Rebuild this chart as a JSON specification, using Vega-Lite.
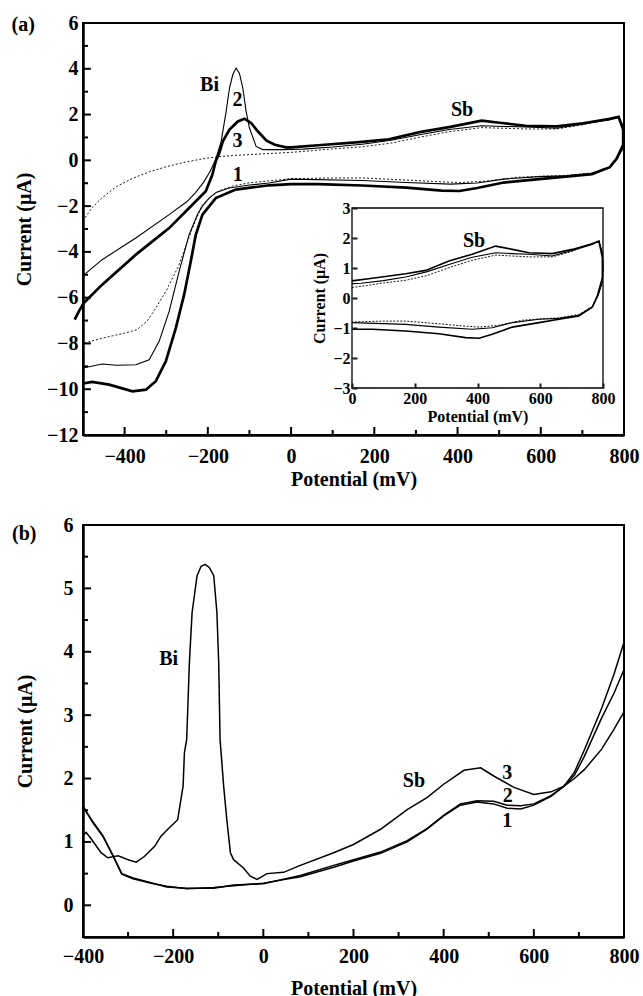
{
 "$schema": "https://vega.github.io/schema/vega-lite/v6.json",
 "padding": {"left": 10, "top": 12, "right": 5, "bottom": 0},
 "spacing": 24,
 "datasets": {
  "cv": [
   {"c":1,"E":-500,"I":-2.65},{"c":1,"E":-480,"I":-2.1},{"c":1,"E":-455,"I":-1.65},{"c":1,"E":-420,"I":-1.15},{"c":1,"E":-380,"I":-0.78},{"c":1,"E":-340,"I":-0.5},{"c":1,"E":-300,"I":-0.28},{"c":1,"E":-260,"I":-0.1},{"c":1,"E":-220,"I":0.04},{"c":1,"E":-180,"I":0.15},{"c":1,"E":-140,"I":0.21},{"c":1,"E":-100,"I":0.25},{"c":1,"E":-50,"I":0.3},{"c":1,"E":0,"I":0.35},{"c":1,"E":50,"I":0.42},{"c":1,"E":100,"I":0.5},{"c":1,"E":171,"I":0.59},{"c":1,"E":240,"I":0.75},{"c":1,"E":309,"I":1.01},{"c":1,"E":380,"I":1.25},{"c":1,"E":458,"I":1.43},{"c":1,"E":510,"I":1.4},{"c":1,"E":564,"I":1.37},{"c":1,"E":638,"I":1.37},{"c":1,"E":700,"I":1.55},{"c":1,"E":766,"I":1.83},{"c":1,"E":787,"I":1.88},{"c":1,"E":798,"I":1.5},{"c":1,"E":800,"I":1.0},{"c":1,"E":797,"I":0.5},{"c":1,"E":785,"I":0.1},{"c":1,"E":766,"I":-0.28},{"c":1,"E":723,"I":-0.55},{"c":1,"E":660,"I":-0.66},{"c":1,"E":596,"I":-0.7},{"c":1,"E":543,"I":-0.74},{"c":1,"E":468,"I":-0.91},{"c":1,"E":405,"I":-0.97},{"c":1,"E":340,"I":-0.92},{"c":1,"E":277,"I":-0.86},{"c":1,"E":171,"I":-0.77},{"c":1,"E":100,"I":-0.77},{"c":1,"E":0,"I":-0.8},{"c":1,"E":-53,"I":-0.9},{"c":1,"E":-100,"I":-0.98},{"c":1,"E":-140,"I":-1.12},{"c":1,"E":-175,"I":-1.35},{"c":1,"E":-200,"I":-1.7},{"c":1,"E":-215,"I":-2.0},{"c":1,"E":-240,"I":-3.1},{"c":1,"E":-270,"I":-4.6},{"c":1,"E":-300,"I":-5.7},{"c":1,"E":-325,"I":-6.45},{"c":1,"E":-345,"I":-7.0},{"c":1,"E":-370,"I":-7.4},{"c":1,"E":-400,"I":-7.55},{"c":1,"E":-450,"I":-7.75},{"c":1,"E":-500,"I":-8.0},
   {"c":2,"E":-502,"I":-5.07},{"c":2,"E":-454,"I":-4.34},{"c":2,"E":-373,"I":-3.39},{"c":2,"E":-293,"I":-2.37},{"c":2,"E":-250,"I":-1.8},{"c":2,"E":-229,"I":-1.4},{"c":2,"E":-210,"I":-0.95},{"c":2,"E":-195,"I":-0.5},{"c":2,"E":-182,"I":0.0},{"c":2,"E":-168,"I":0.83},{"c":2,"E":-156,"I":2.14},{"c":2,"E":-148,"I":3.16},{"c":2,"E":-140,"I":3.75},{"c":2,"E":-132,"I":4.03},{"c":2,"E":-124,"I":3.8},{"c":2,"E":-116,"I":3.16},{"c":2,"E":-108,"I":2.14},{"c":2,"E":-100,"I":1.41},{"c":2,"E":-84,"I":0.61},{"c":2,"E":-68,"I":0.47},{"c":2,"E":-20,"I":0.47},{"c":2,"E":0,"I":0.48},{"c":2,"E":29,"I":0.49},{"c":2,"E":100,"I":0.58},{"c":2,"E":171,"I":0.7},{"c":2,"E":240,"I":0.88},{"c":2,"E":309,"I":1.12},{"c":2,"E":380,"I":1.35},{"c":2,"E":458,"I":1.51},{"c":2,"E":510,"I":1.48},{"c":2,"E":564,"I":1.46},{"c":2,"E":638,"I":1.4},{"c":2,"E":700,"I":1.58},{"c":2,"E":766,"I":1.78},{"c":2,"E":787,"I":1.9},{"c":2,"E":798,"I":1.5},{"c":2,"E":800,"I":1.0},{"c":2,"E":797,"I":0.5},{"c":2,"E":784,"I":0.08},{"c":2,"E":766,"I":-0.3},{"c":2,"E":723,"I":-0.58},{"c":2,"E":660,"I":-0.68},{"c":2,"E":596,"I":-0.71},{"c":2,"E":511,"I":-0.82},{"c":2,"E":447,"I":-0.99},{"c":2,"E":383,"I":-1.04},{"c":2,"E":277,"I":-0.97},{"c":2,"E":171,"I":-0.88},{"c":2,"E":0,"I":-0.82},{"c":2,"E":-53,"I":-0.99},{"c":2,"E":-100,"I":-1.08},{"c":2,"E":-149,"I":-1.21},{"c":2,"E":-180,"I":-1.4},{"c":2,"E":-197,"I":-1.65},{"c":2,"E":-213,"I":-2.0},{"c":2,"E":-225,"I":-2.37},{"c":2,"E":-245,"I":-3.25},{"c":2,"E":-269,"I":-4.85},{"c":2,"E":-293,"I":-6.6},{"c":2,"E":-317,"I":-7.91},{"c":2,"E":-341,"I":-8.71},{"c":2,"E":-373,"I":-8.93},{"c":2,"E":-420,"I":-8.95},{"c":2,"E":-454,"I":-8.9},{"c":2,"E":-500,"I":-9.07},
   {"c":3,"E":-520,"I":-6.96},{"c":3,"E":-510,"I":-6.6},{"c":3,"E":-498,"I":-6.23},{"c":3,"E":-454,"I":-5.43},{"c":3,"E":-373,"I":-4.12},{"c":3,"E":-293,"I":-2.96},{"c":3,"E":-245,"I":-2.08},{"c":3,"E":-205,"I":-1.35},{"c":3,"E":-189,"I":-0.62},{"c":3,"E":-181,"I":-0.04},{"c":3,"E":-172,"I":0.35},{"c":3,"E":-164,"I":0.83},{"c":3,"E":-148,"I":1.34},{"c":3,"E":-128,"I":1.7},{"c":3,"E":-112,"I":1.82},{"c":3,"E":-96,"I":1.63},{"c":3,"E":-80,"I":1.27},{"c":3,"E":-59,"I":0.86},{"c":3,"E":-39,"I":0.68},{"c":3,"E":-12,"I":0.57},{"c":3,"E":0,"I":0.57},{"c":3,"E":65,"I":0.66},{"c":3,"E":171,"I":0.81},{"c":3,"E":235,"I":0.92},{"c":3,"E":309,"I":1.23},{"c":3,"E":383,"I":1.46},{"c":3,"E":458,"I":1.73},{"c":3,"E":511,"I":1.62},{"c":3,"E":564,"I":1.51},{"c":3,"E":638,"I":1.48},{"c":3,"E":702,"I":1.62},{"c":3,"E":766,"I":1.81},{"c":3,"E":787,"I":1.9},{"c":3,"E":798,"I":1.34},{"c":3,"E":798,"I":0.68},{"c":3,"E":782,"I":0.07},{"c":3,"E":766,"I":-0.3},{"c":3,"E":723,"I":-0.6},{"c":3,"E":660,"I":-0.71},{"c":3,"E":596,"I":-0.82},{"c":3,"E":511,"I":-0.97},{"c":3,"E":447,"I":-1.21},{"c":3,"E":405,"I":-1.34},{"c":3,"E":362,"I":-1.32},{"c":3,"E":277,"I":-1.19},{"c":3,"E":171,"I":-1.1},{"c":3,"E":65,"I":-1.04},{"c":3,"E":0,"I":-1.04},{"c":3,"E":-53,"I":-1.09},{"c":3,"E":-133,"I":-1.28},{"c":3,"E":-181,"I":-1.65},{"c":3,"E":-213,"I":-2.37},{"c":3,"E":-229,"I":-3.25},{"c":3,"E":-241,"I":-4.41},{"c":3,"E":-257,"I":-5.87},{"c":3,"E":-277,"I":-7.33},{"c":3,"E":-301,"I":-8.78},{"c":3,"E":-325,"I":-9.65},{"c":3,"E":-349,"I":-10.02},{"c":3,"E":-381,"I":-10.09},{"c":3,"E":-437,"I":-9.8},{"c":3,"E":-478,"I":-9.68},{"c":3,"E":-500,"I":-9.75}
  ],
  "sw": [
   {"c":1,"E":-400,"I":1.57},{"c":1,"E":-378,"I":1.3},{"c":1,"E":-356,"I":1.09},{"c":1,"E":-333,"I":0.77},{"c":1,"E":-314,"I":0.49},{"c":1,"E":-289,"I":0.42},{"c":1,"E":-251,"I":0.35},{"c":1,"E":-214,"I":0.3},{"c":1,"E":-170,"I":0.26},{"c":1,"E":-110,"I":0.28},{"c":1,"E":-66,"I":0.31},{"c":1,"E":0,"I":0.35},{"c":1,"E":82,"I":0.45},{"c":1,"E":156,"I":0.6},{"c":1,"E":200,"I":0.7},{"c":1,"E":260,"I":0.82},{"c":1,"E":319,"I":1.0},{"c":1,"E":363,"I":1.2},{"c":1,"E":400,"I":1.41},{"c":1,"E":437,"I":1.58},{"c":1,"E":474,"I":1.63},{"c":1,"E":511,"I":1.6},{"c":1,"E":541,"I":1.53},{"c":1,"E":571,"I":1.52},{"c":1,"E":600,"I":1.58},{"c":1,"E":638,"I":1.72},{"c":1,"E":667,"I":1.88},{"c":1,"E":690,"I":2.1},{"c":1,"E":712,"I":2.45},{"c":1,"E":750,"I":3.1},{"c":1,"E":778,"I":3.65},{"c":1,"E":800,"I":4.15},
   {"c":2,"E":-400,"I":1.55},{"c":2,"E":-378,"I":1.32},{"c":2,"E":-356,"I":1.1},{"c":2,"E":-333,"I":0.78},{"c":2,"E":-314,"I":0.5},{"c":2,"E":-289,"I":0.43},{"c":2,"E":-251,"I":0.36},{"c":2,"E":-214,"I":0.29},{"c":2,"E":-170,"I":0.27},{"c":2,"E":-110,"I":0.27},{"c":2,"E":-66,"I":0.32},{"c":2,"E":0,"I":0.34},{"c":2,"E":82,"I":0.47},{"c":2,"E":156,"I":0.63},{"c":2,"E":200,"I":0.72},{"c":2,"E":260,"I":0.84},{"c":2,"E":319,"I":1.02},{"c":2,"E":363,"I":1.21},{"c":2,"E":400,"I":1.42},{"c":2,"E":437,"I":1.6},{"c":2,"E":474,"I":1.65},{"c":2,"E":511,"I":1.64},{"c":2,"E":541,"I":1.58},{"c":2,"E":571,"I":1.57},{"c":2,"E":600,"I":1.6},{"c":2,"E":638,"I":1.73},{"c":2,"E":667,"I":1.88},{"c":2,"E":690,"I":2.05},{"c":2,"E":712,"I":2.35},{"c":2,"E":750,"I":2.95},{"c":2,"E":778,"I":3.35},{"c":2,"E":800,"I":3.72},
   {"c":3,"E":-400,"I":1.1},{"c":3,"E":-393,"I":1.15},{"c":3,"E":-382,"I":1.05},{"c":3,"E":-360,"I":0.83},{"c":3,"E":-345,"I":0.75},{"c":3,"E":-322,"I":0.78},{"c":3,"E":-300,"I":0.72},{"c":3,"E":-282,"I":0.68},{"c":3,"E":-264,"I":0.77},{"c":3,"E":-241,"I":0.93},{"c":3,"E":-227,"I":1.09},{"c":3,"E":-212,"I":1.2},{"c":3,"E":-190,"I":1.35},{"c":3,"E":-178,"I":1.88},{"c":3,"E":-175,"I":2.41},{"c":3,"E":-170,"I":2.62},{"c":3,"E":-164,"I":3.83},{"c":3,"E":-158,"I":4.62},{"c":3,"E":-147,"I":5.2},{"c":3,"E":-138,"I":5.35},{"c":3,"E":-129,"I":5.38},{"c":3,"E":-120,"I":5.33},{"c":3,"E":-110,"I":5.2},{"c":3,"E":-103,"I":4.62},{"c":3,"E":-99,"I":3.83},{"c":3,"E":-96,"I":2.62},{"c":3,"E":-88,"I":1.88},{"c":3,"E":-81,"I":1.35},{"c":3,"E":-73,"I":0.83},{"c":3,"E":-66,"I":0.72},{"c":3,"E":-44,"I":0.59},{"c":3,"E":-29,"I":0.46},{"c":3,"E":-14,"I":0.41},{"c":3,"E":8,"I":0.5},{"c":3,"E":45,"I":0.52},{"c":3,"E":82,"I":0.63},{"c":3,"E":156,"I":0.83},{"c":3,"E":200,"I":0.96},{"c":3,"E":260,"I":1.2},{"c":3,"E":319,"I":1.51},{"c":3,"E":363,"I":1.7},{"c":3,"E":400,"I":1.91},{"c":3,"E":445,"I":2.13},{"c":3,"E":482,"I":2.17},{"c":3,"E":511,"I":2.04},{"c":3,"E":556,"I":1.86},{"c":3,"E":600,"I":1.75},{"c":3,"E":638,"I":1.79},{"c":3,"E":667,"I":1.88},{"c":3,"E":690,"I":2.0},{"c":3,"E":712,"I":2.14},{"c":3,"E":750,"I":2.46},{"c":3,"E":778,"I":2.78},{"c":3,"E":800,"I":3.05}
  ],
  "labA": [{"E":-196,"I":3.3,"t":"Bi"},{"E":-129,"I":2.65,"t":"2"},{"E":-129,"I":0.83,"t":"3"},{"E":-128,"I":-0.62,"t":"1"},{"E":411,"I":2.21,"t":"Sb"}],
  "labI": [{"E":389,"I":1.9,"t":"Sb"}],
  "box": [{"x0":0,"x1":800,"y0":-3,"y1":3}],
  "labB": [{"E":-210,"I":3.88,"t":"Bi"},{"E":334,"I":1.96,"t":"Sb"},{"E":541,"I":2.09,"t":"3"},{"E":542,"I":1.72,"t":"2"},{"E":541,"I":1.33,"t":"1"}],
  "txA": [{"v":-400},{"v":-200},{"v":0},{"v":200},{"v":400},{"v":600}],
  "txAm": [{"v":-300},{"v":-100},{"v":100},{"v":300},{"v":500},{"v":700}],
  "tyA": [{"v":-10},{"v":-8},{"v":-6},{"v":-4},{"v":-2},{"v":0},{"v":2},{"v":4}],
  "tyAm": [{"v":-11},{"v":-9},{"v":-7},{"v":-5},{"v":-3},{"v":-1},{"v":1},{"v":3},{"v":5}],
  "txB": [{"v":-200},{"v":0},{"v":200},{"v":400},{"v":600}],
  "txBm": [{"v":-300},{"v":-100},{"v":100},{"v":300},{"v":500},{"v":700}],
  "tyB": [{"v":0},{"v":1},{"v":2},{"v":3},{"v":4},{"v":5}],
  "tyBm": [{"v":0.5},{"v":1.5},{"v":2.5},{"v":3.5},{"v":4.5},{"v":5.5}]
 },
 "vconcat": [
  {
   "width": 541, "height": 412,
   "title": {"text": "(a)", "anchor": "start", "frame": "bounds", "orient": "top", "offset": -32, "baseline": "middle", "dx": -3, "font": "Liberation Serif", "fontWeight": "bold", "fontSize": 20, "color": "black"},
   "layer": [
    {
     "layer": [
      {"data": {"name": "cv"}, "transform": [{"filter": "datum.c == 1"}],
       "mark": {"type": "line", "color": "black", "strokeWidth": 0.9, "strokeDash": [2, 2]},
       "encoding": {
        "x": {"field": "E", "type": "quantitative", "scale": {"domain": [-500, 800], "nice": false, "zero": false},
              "axis": {"orient": "bottom", "values": [-400, -200, 0, 200, 400, 600, 800], "ticks": false, "tickSize": 0, "labelPadding": 11, "title": "Potential (mV)", "titlePadding": 3}},
        "y": {"field": "I", "type": "quantitative", "scale": {"domain": [-12, 6], "nice": false, "zero": false},
              "axis": {"orient": "left", "values": [-12, -10, -8, -6, -4, -2, 0, 2, 4, 6], "ticks": false, "tickSize": 0, "labelPadding": 5, "title": "Current (μA)", "titlePadding": 12}},
        "order": {"value": null}}},
      {"data": {"name": "cv"}, "transform": [{"filter": "datum.c == 2"}],
       "mark": {"type": "line", "color": "black", "strokeWidth": 1.1},
       "encoding": {
        "x": {"field": "E", "type": "quantitative", "scale": {"domain": [-500, 800], "nice": false, "zero": false}, "axis": null},
        "y": {"field": "I", "type": "quantitative", "scale": {"domain": [-12, 6], "nice": false, "zero": false}, "axis": null},
        "order": {"value": null}}},
      {"data": {"name": "cv"}, "transform": [{"filter": "datum.c == 3"}],
       "mark": {"type": "line", "color": "black", "strokeWidth": 2.7},
       "encoding": {
        "x": {"field": "E", "type": "quantitative", "scale": {"domain": [-500, 800], "nice": false, "zero": false}, "axis": null},
        "y": {"field": "I", "type": "quantitative", "scale": {"domain": [-12, 6], "nice": false, "zero": false}, "axis": null},
        "order": {"value": null}}},
      {"data": {"name": "txA"}, "mark": {"type": "rule", "color": "black", "strokeWidth": 2},
       "encoding": {
        "x": {"field": "v", "type": "quantitative", "scale": {"domain": [-500, 800], "nice": false, "zero": false}, "axis": null},
        "y": {"datum": -12, "type": "quantitative", "scale": {"domain": [-12, 6], "nice": false, "zero": false}, "axis": null},
        "y2": {"datum": -11.65}}},
      {"data": {"name": "txAm"}, "mark": {"type": "rule", "color": "black", "strokeWidth": 2},
       "encoding": {
        "x": {"field": "v", "type": "quantitative", "scale": {"domain": [-500, 800], "nice": false, "zero": false}, "axis": null},
        "y": {"datum": -12, "type": "quantitative", "scale": {"domain": [-12, 6], "nice": false, "zero": false}, "axis": null},
        "y2": {"datum": -11.78}}},
      {"data": {"name": "tyA"}, "mark": {"type": "rule", "color": "black", "strokeWidth": 2},
       "encoding": {
        "y": {"field": "v", "type": "quantitative", "scale": {"domain": [-12, 6], "nice": false, "zero": false}, "axis": null},
        "x": {"datum": -500, "type": "quantitative", "scale": {"domain": [-500, 800], "nice": false, "zero": false}, "axis": null},
        "x2": {"datum": -481}}},
      {"data": {"name": "tyAm"}, "mark": {"type": "rule", "color": "black", "strokeWidth": 2},
       "encoding": {
        "y": {"field": "v", "type": "quantitative", "scale": {"domain": [-12, 6], "nice": false, "zero": false}, "axis": null},
        "x": {"datum": -500, "type": "quantitative", "scale": {"domain": [-500, 800], "nice": false, "zero": false}, "axis": null},
        "x2": {"datum": -488}}},
      {"data": {"name": "labA"},
       "mark": {"type": "text", "font": "Liberation Serif", "fontWeight": "bold", "fontSize": 20, "color": "black"},
       "encoding": {
        "x": {"field": "E", "type": "quantitative", "scale": {"domain": [-500, 800], "nice": false, "zero": false}, "axis": null},
        "y": {"field": "I", "type": "quantitative", "scale": {"domain": [-12, 6], "nice": false, "zero": false}, "axis": null},
        "text": {"field": "t"}}}
     ],
     "resolve": {"axis": {"x": "independent", "y": "independent"}}
    },
    {
     "layer": [
      {"data": {"name": "box"},
       "mark": {"type": "rect", "filled": false, "stroke": "black", "strokeWidth": 1.3},
       "encoding": {
        "x": {"field": "x0", "type": "quantitative", "scale": {"domain": [0, 800], "range": [269, 520], "nice": false, "zero": false},
              "axis": {"orient": "bottom", "offset": -47, "values": [0, 200, 400, 600, 800], "ticks": false, "tickSize": 0, "labelPadding": 2, "labelFontSize": 16, "domain": false, "title": "Potential (mV)", "titleFontSize": 16, "titlePadding": 2}},
        "x2": {"field": "x1"},
        "y": {"field": "y0", "type": "quantitative", "scale": {"domain": [-3, 3], "range": [365, 185], "nice": false, "zero": false},
              "axis": {"orient": "left", "offset": -269, "values": [-3, -2, -1, 0, 1, 2, 3], "ticks": false, "tickSize": 0, "labelPadding": 2, "labelFontSize": 16, "domain": false, "title": "Current (μA)", "titleFontSize": 16, "titlePadding": 5}},
        "y2": {"field": "y1"}}},
      {"data": {"name": "cv"}, "transform": [{"filter": "datum.c == 1 && datum.E >= 0"}],
       "mark": {"type": "line", "color": "black", "strokeWidth": 0.9, "strokeDash": [2, 1.5]},
       "encoding": {
        "x": {"field": "E", "type": "quantitative", "scale": {"domain": [0, 800], "range": [269, 520], "nice": false, "zero": false},
              "axis": {"orient": "top", "offset": -365, "values": [0, 200, 400, 600, 800], "ticks": true, "tickSize": 5, "tickColor": "#1a1a1a", "tickWidth": 2, "labels": false, "domain": false, "title": null, "zindex": 1}},
        "y": {"field": "I", "type": "quantitative", "scale": {"domain": [-3, 3], "range": [365, 185], "nice": false, "zero": false},
              "axis": {"orient": "right", "offset": -272, "values": [-3, -2, -1, 0, 1, 2, 3], "ticks": true, "tickSize": 5, "tickColor": "#1a1a1a", "tickWidth": 2, "labels": false, "domain": false, "title": null, "zindex": 1}},
        "order": {"value": null}}},
      {"data": {"name": "cv"}, "transform": [{"filter": "datum.c == 2 && datum.E >= 0"}],
       "mark": {"type": "line", "color": "black", "strokeWidth": 1.1},
       "encoding": {
        "x": {"field": "E", "type": "quantitative", "scale": {"domain": [0, 800], "range": [269, 520], "nice": false, "zero": false}, "axis": null},
        "y": {"field": "I", "type": "quantitative", "scale": {"domain": [-3, 3], "range": [365, 185], "nice": false, "zero": false}, "axis": null},
        "order": {"value": null}}},
      {"data": {"name": "cv"}, "transform": [{"filter": "datum.c == 3 && datum.E >= 0"}],
       "mark": {"type": "line", "color": "black", "strokeWidth": 1.6},
       "encoding": {
        "x": {"field": "E", "type": "quantitative", "scale": {"domain": [0, 800], "range": [269, 520], "nice": false, "zero": false}, "axis": null},
        "y": {"field": "I", "type": "quantitative", "scale": {"domain": [-3, 3], "range": [365, 185], "nice": false, "zero": false}, "axis": null},
        "order": {"value": null}}},
      {"data": {"name": "labI"},
       "mark": {"type": "text", "font": "Liberation Serif", "fontWeight": "bold", "fontSize": 20, "color": "black"},
       "encoding": {
        "x": {"field": "E", "type": "quantitative", "scale": {"domain": [0, 800], "range": [269, 520], "nice": false, "zero": false}, "axis": null},
        "y": {"field": "I", "type": "quantitative", "scale": {"domain": [-3, 3], "range": [365, 185], "nice": false, "zero": false}, "axis": null},
        "text": {"field": "t"}}}
     ],
     "resolve": {"axis": {"x": "independent", "y": "independent"}}
    }
   ],
   "resolve": {"scale": {"x": "independent", "y": "independent"}}
  },
  {
   "width": 541, "height": 412,
   "title": {"text": "(b)", "anchor": "start", "frame": "bounds", "orient": "top", "offset": -39, "baseline": "middle", "dx": -3, "font": "Liberation Serif", "fontWeight": "bold", "fontSize": 20, "color": "black"},
   "layer": [
    {"data": {"name": "sw"}, "transform": [{"filter": "datum.c == 1"}],
     "mark": {"type": "line", "color": "black", "strokeWidth": 1.5},
     "encoding": {
      "x": {"field": "E", "type": "quantitative", "scale": {"domain": [-400, 800], "nice": false, "zero": false},
            "axis": {"orient": "bottom", "values": [-400, -200, 0, 200, 400, 600, 800], "ticks": false, "tickSize": 0, "labelPadding": 9, "title": "Potential (mV)", "titlePadding": 12}},
      "y": {"field": "I", "type": "quantitative", "scale": {"domain": [-0.5, 6], "nice": false, "zero": false},
            "axis": {"orient": "left", "values": [0, 1, 2, 3, 4, 5, 6], "ticks": false, "tickSize": 0, "labelPadding": 10, "title": "Current (μA)", "titlePadding": 28}},
      "order": {"value": null}}},
    {"data": {"name": "sw"}, "transform": [{"filter": "datum.c == 2"}],
     "mark": {"type": "line", "color": "black", "strokeWidth": 1.5},
     "encoding": {
      "x": {"field": "E", "type": "quantitative", "scale": {"domain": [-400, 800], "nice": false, "zero": false}, "axis": null},
      "y": {"field": "I", "type": "quantitative", "scale": {"domain": [-0.5, 6], "nice": false, "zero": false}, "axis": null},
      "order": {"value": null}}},
    {"data": {"name": "sw"}, "transform": [{"filter": "datum.c == 3"}],
     "mark": {"type": "line", "color": "black", "strokeWidth": 1.5},
     "encoding": {
      "x": {"field": "E", "type": "quantitative", "scale": {"domain": [-400, 800], "nice": false, "zero": false}, "axis": null},
      "y": {"field": "I", "type": "quantitative", "scale": {"domain": [-0.5, 6], "nice": false, "zero": false}, "axis": null},
      "order": {"value": null}}},
    {"data": {"name": "txB"}, "mark": {"type": "rule", "color": "black", "strokeWidth": 2},
     "encoding": {
      "x": {"field": "v", "type": "quantitative", "scale": {"domain": [-400, 800], "nice": false, "zero": false}, "axis": null},
      "y": {"datum": -0.5, "type": "quantitative", "scale": {"domain": [-0.5, 6], "nice": false, "zero": false}, "axis": null},
      "y2": {"datum": -0.374}}},
    {"data": {"name": "txBm"}, "mark": {"type": "rule", "color": "black", "strokeWidth": 2},
     "encoding": {
      "x": {"field": "v", "type": "quantitative", "scale": {"domain": [-400, 800], "nice": false, "zero": false}, "axis": null},
      "y": {"datum": -0.5, "type": "quantitative", "scale": {"domain": [-0.5, 6], "nice": false, "zero": false}, "axis": null},
      "y2": {"datum": -0.42}}},
    {"data": {"name": "tyB"}, "mark": {"type": "rule", "color": "black", "strokeWidth": 2},
     "encoding": {
      "y": {"field": "v", "type": "quantitative", "scale": {"domain": [-0.5, 6], "nice": false, "zero": false}, "axis": null},
      "x": {"datum": -400, "type": "quantitative", "scale": {"domain": [-400, 800], "nice": false, "zero": false}, "axis": null},
      "x2": {"datum": -382}}},
    {"data": {"name": "tyBm"}, "mark": {"type": "rule", "color": "black", "strokeWidth": 2},
     "encoding": {
      "y": {"field": "v", "type": "quantitative", "scale": {"domain": [-0.5, 6], "nice": false, "zero": false}, "axis": null},
      "x": {"datum": -400, "type": "quantitative", "scale": {"domain": [-400, 800], "nice": false, "zero": false}, "axis": null},
      "x2": {"datum": -389}}},
    {"data": {"name": "labB"},
     "mark": {"type": "text", "font": "Liberation Serif", "fontWeight": "bold", "fontSize": 20, "color": "black"},
     "encoding": {
      "x": {"field": "E", "type": "quantitative", "scale": {"domain": [-400, 800], "nice": false, "zero": false}, "axis": null},
      "y": {"field": "I", "type": "quantitative", "scale": {"domain": [-0.5, 6], "nice": false, "zero": false}, "axis": null},
      "text": {"field": "t"}}}
   ],
   "resolve": {"axis": {"x": "independent", "y": "independent"}}
  }
 ],
 "config": {
  "view": {"stroke": "black", "strokeWidth": 2},
  "axis": {"labelFont": "Liberation Serif", "labelFontWeight": "bold", "labelFontSize": 20, "labelColor": "black", "titleFont": "Liberation Serif", "titleFontWeight": "bold", "titleFontSize": 20, "titleColor": "black", "domainColor": "black", "domainWidth": 2.5, "grid": false, "labelFlush": false, "labelOverlap": false}
 }
}
